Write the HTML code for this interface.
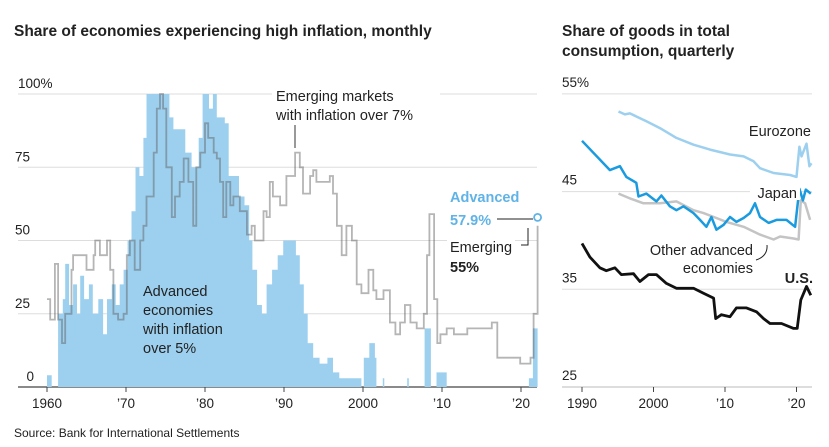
<!DOCTYPE html>
<html><head><meta charset="utf-8"><style>
body{margin:0;background:#fff;font-family:"Liberation Sans",sans-serif}
svg{display:block}
text{font-family:"Liberation Sans",sans-serif;fill:#222}
</style></head><body>
<svg id="c" width="829" height="447">
<text x="14" y="36" font-size="15.5" font-weight="bold">Share of economies experiencing high inflation, monthly</text>
<text x="562" y="36" font-size="15.5" font-weight="bold">Share of goods in total</text>
<text x="562" y="56" font-size="15.5" font-weight="bold">consumption, quarterly</text>
<text x="14" y="437" font-size="12">Source: Bank for International Settlements</text>
<g id="L"></g><g id="R"></g>
</svg>
<script>
const NS="http://www.w3.org/2000/svg";
function mk(p,t,a){const e=document.createElementNS(NS,t);for(const k in a)e.setAttribute(k,a[k]);p.appendChild(e);return e;}
// ---- Left chart data ----
const leftTicks=[0,25,50,75,100];
const leftTickLabels=["0","25","50","75","100%"];
const leftYears=[1960,1970,1980,1990,2000,2010,2020];
const leftYearLabels=["1960","\u201970","\u201980","\u201990","2000","\u201910","\u201920"];
const advYears=[1960,1960,1960.5,1960.6,1961.2,1961.4,1962,1962.3,1962.8,1963.3,1963.8,1964.2,1964.7,1965.3,1965.8,1966.5,1967.1,1967.6,1968.2,1968.7,1969.2,1969.7,1970.2,1970.7,1971.2,1971.7,1972.2,1972.6,1973,1974,1975,1975.5,1976,1977,1977.5,1978.3,1979.2,1979.7,1980.5,1981,1981.5,1982.5,1983,1983.6,1984.3,1985,1985.6,1986,1986.6,1987.2,1987.8,1988.5,1989.2,1989.9,1990.5,1991.5,1992,1992.5,1993,1993.7,1994.5,1995.5,1996.2,1997,1999.5,1999.8,2000.1,2000.8,2001.5,2001.7,2002.4,2002.5,2002.7,2005.5,2005.6,2005.8,2007.6,2007.8,2008.4,2008.6,2009.2,2009.3,2010.5,2010.6,2020.7,2021,2021.5,2022.1];
const advVals=[0,4,4,0,0,25,30,42,28,35,25,38,30,35,25,30,18,30,35,28,35,40,50,60,75,72,85,100,100,100,100,92,88,88,80,75,85,100,95,100,92,90,72,72,65,62,50,40,28,25,35,40,45,50,50,45,35,25,15,10,8,10,5,3,3,0,10,15,10,0,0,3,0,0,3,0,0,20,20,0,0,5,5,0,0,3,20,57.9];
const emgYears=[1960,1960.4,1961,1961.4,1961.9,1962.3,1963.1,1963.3,1964.2,1965,1965.9,1966.1,1966.7,1967.6,1968,1968.4,1969,1969.7,1970.1,1970.5,1971.1,1971.8,1972.2,1972.6,1973.5,1973.9,1974.3,1974.7,1975.1,1975.8,1976.2,1976.8,1977.3,1977.9,1978.5,1978.9,1979.4,1980,1980.4,1981.1,1981.5,1981.9,1982.3,1982.7,1983.2,1983.6,1984.4,1985.3,1985.9,1986.3,1986.9,1987.4,1987.8,1988.2,1988.6,1989.5,1990.3,1991.4,1992,1992.4,1993.3,1993.7,1994.1,1995.8,1996.2,1996.7,1997.3,1997.9,1998.6,1999.2,1999.8,2000.7,2001.3,2001.7,2002.6,2003.4,2004.1,2004.7,2005.3,2006,2006.8,2007.7,2008.1,2008.4,2009,2009.4,2009.8,2010.6,2011.5,2012.3,2013.2,2014.9,2016.3,2017,2019.1,2019.9,2021.2,2021.6,2022.1];
const emgVals=[30,23,42,23,15,25,40,45,45,40,45,50,45,50,40,25,23,25,45,50,40,50,55,65,80,95,100,95,75,58,65,70,78,70,55,75,80,90,85,80,78,70,58,70,62,65,60,52,55,50,50,60,58,70,65,62,72,80,75,66,72,74,70,72,66,55,45,55,50,35,32,40,33,30,33,22,18,22,28,22,20,25,45,59,30,15,18,20,18,18,20,20,22,10,10,8,10,25,55];
// ---- Right chart data ----
const rightTicks=[25,35,45,55];
const rightTickLabels=["25","35","45","55%"];
const rightYears=[1990,2000,2010,2020];
const rightYearLabels=["1990","2000","\u201910","\u201920"];
const euroYears=[1995.1,1996,1996.7,1999,2000.9,2003.2,2005.6,2007.9,2010.7,2012.6,2014,2014.9,2016.8,2019.1,2020,2020.4,2020.7,2021.4,2021.8,2022.1];
const euroVals=[53.2,52.9,53,52.2,51.5,50.5,49.8,49.3,48.8,48.6,48.1,47.4,46.9,46.7,46.5,49.6,48.6,49.9,47.6,47.9];
const japanYears=[1990,1993.9,1995.3,1996.2,1997.6,1997.9,1999,2000.4,2001.1,2002.3,2003.2,2004.2,2005.6,2006.5,2007.4,2008.1,2008.8,2009.8,2010.7,2011.6,2012.6,2013.5,2014.2,2014.9,2016.1,2017.2,2018.6,2019.8,2020.4,2020.9,2021.3,2022];
const japanVals=[50.2,47.2,47.6,46.5,45.9,44.5,44.8,44,44.6,43.5,43.1,43.5,42.8,42.1,41.4,42.4,41.1,41.6,42.4,41.9,42.3,42.8,43.8,42.4,41.8,42.1,42.1,41.4,45.3,44.1,45.2,44.8];
const otherYears=[1995.1,1996.7,1998.6,2000.9,2003.2,2005.6,2007,2008.8,2010.2,2012.6,2014.9,2016.8,2017.7,2019.6,2020.3,2020.6,2021.2,2021.9];
const otherVals=[44.8,44.3,43.8,43.8,44,43.1,42.8,42.3,41.9,41.4,40.6,40.1,40.4,40.2,40.1,44.1,43.8,42.1];
const usYears=[1990,1991.1,1992.5,1993.4,1994.6,1995.5,1997.2,1998.1,1999.3,2000.4,2001.8,2003.2,2005.6,2007,2008.4,2008.7,2009.5,2010.7,2011.6,2013,2014.4,2015.4,2016.3,2017.9,2019.6,2020.1,2020.6,2021.4,2022];
const usVals=[39.7,38.3,37.2,36.9,37.2,36.5,36.6,35.8,36.5,36.5,35.6,35.1,35.1,34.6,34.1,32,32.4,32.2,33.1,33.1,32.7,32,31.5,31.5,31,31,33.9,35.3,34.4];

const L=document.getElementById('L'),R=document.getElementById('R');
const lx=y=>47+(y-1960)*7.9, ly=v=>387-v*2.93;
const rx=y=>582+(y-1990)*7.15, ry=v=>387-(v-25)*9.77;

leftTicks.forEach((t,i)=>{
  const g=mk(L,'line',{x1:18,x2:537,y1:ly(t),y2:ly(t),stroke:t==0?'#444':'#ddd','stroke-width':t==0?1.3:1});
  
  
  const tx=mk(L,'text',{x:t==100?18:(t==0?34:30),y:ly(t)-6,'font-size':13.5,'text-anchor':t==100?'start':'end'});
  tx.textContent=leftTickLabels[i];
  
  
});
leftYears.forEach((y,i)=>{
  const tk=mk(L,'line',{x1:lx(y),x2:lx(y),y1:387,y2:392,stroke:'#444'});
  
  
  const tx=mk(L,'text',{x:lx(y),y:408,'font-size':13.5,'text-anchor':'middle'});
  tx.textContent=leftYearLabels[i];
  
  
});
let d='M'+lx(advYears[0])+','+ly(0);
advYears.forEach((y,i)=>{ if(i>0) d+='H'+lx(y).toFixed(1); d+='V'+ly(advVals[i]).toFixed(1);});
d+='V'+ly(0)+'Z';
const area=mk(L,'path',{d:d,fill:'#9dd0ef'});


let d2='M'+lx(emgYears[0]).toFixed(1)+','+ly(emgVals[0]).toFixed(1);
emgYears.forEach((y,i)=>{ if(i>0){d2+='H'+lx(y).toFixed(1)+'V'+ly(emgVals[i]).toFixed(1);} });
const eline=mk(L,'path',{d:d2,fill:'none',stroke:'rgba(90,90,90,0.45)','stroke-width':1.8});


const bg=mk(L,'rect',{x:272,y:86,width:168,height:40,fill:'#fff'});


[["Emerging markets",101],["with inflation over 7%",120]].forEach(a=>{const t=mk(L,'text',{x:276,y:a[1],'font-size':14.5});t.textContent=a[0];

});
const el1=mk(L,'line',{x1:295,x2:295,y1:125,y2:148,stroke:'#555','stroke-width':1.2});


[["Advanced",296],["economies",315],["with inflation",334],["over 5%",353]].forEach(a=>{const t=mk(L,'text',{x:143,y:a[1],'font-size':14.5});t.textContent=a[0];

});
const wb=mk(L,'rect',{x:447,y:185,width:68,height:88,fill:'#fff'});


const a1=mk(L,'text',{x:450,y:202,'font-size':14.5,'font-weight':'bold',style:'fill:#5fb3e6'});a1.textContent='Advanced';


const a2=mk(L,'text',{x:450,y:225,'font-size':14.5,'font-weight':'bold',style:'fill:#5fb3e6'});a2.textContent='57.9%';


const a3=mk(L,'text',{x:450,y:252,'font-size':14.5});a3.textContent='Emerging';


const a4=mk(L,'text',{x:450,y:272,'font-size':14.5,'font-weight':'bold'});a4.textContent='55%';


const l1=mk(L,'line',{x1:497,x2:533,y1:219,y2:219,stroke:'#222'});


const l2=mk(L,'path',{d:'M521,245H528V228',fill:'none',stroke:'#222'});


const dot=mk(L,'circle',{cx:lx(2022.1),cy:ly(57.9),r:3.5,fill:'#fff',stroke:'#5fb3e6','stroke-width':1.8});



rightTicks.forEach((t,i)=>{
  const g=mk(R,'line',{x1:562,x2:812,y1:ry(t),y2:ry(t),stroke:t==25?'#bbb':'#ddd'});
  
  
  const tx=mk(R,'text',{x:562,y:ry(t)-7,'font-size':13.5});
  tx.textContent=rightTickLabels[i];
  
  
});
rightYears.forEach((y,i)=>{
  const tk=mk(R,'line',{x1:rx(y),x2:rx(y),y1:387,y2:392,stroke:'#444'});
  
  
  const tx=mk(R,'text',{x:rx(y),y:408,'font-size':13.5,'text-anchor':'middle'});
  tx.textContent=rightYearLabels[i];
  
  
});
function line(xs,vs,col,w){return mk(R,'polyline',{points:xs.map((y,i)=>rx(y).toFixed(1)+','+ry(vs[i]).toFixed(1)).join(' '),fill:'none',stroke:col,'stroke-width':w,'stroke-linejoin':'round'});}
const lo=line(otherYears,otherVals,'#c4c4c4',2.5);


const le=line(euroYears,euroVals,'#9dd0ef',2.5);


const lj=line(japanYears,japanVals,'#1a9be0',2.5);


const lu=line(usYears,usVals,'#111',2.8);


const r1=mk(R,'text',{x:811,y:136,'font-size':14.5,'text-anchor':'end'});r1.textContent='Eurozone';


const jb=mk(R,'rect',{x:750,y:183,width:50,height:17,fill:'#fff'});


const r2=mk(R,'text',{x:797,y:198,'font-size':14.5,'text-anchor':'end'});r2.textContent='Japan';


const r3=mk(R,'text',{x:753,y:255,'font-size':14.5,'text-anchor':'end'});r3.textContent='Other advanced';


const r4=mk(R,'text',{x:753,y:273,'font-size':14.5,'text-anchor':'end'});r4.textContent='economies';


const cl=mk(R,'path',{d:'M756,260Q768,256 767,245',fill:'none',stroke:'#222'});


const r5=mk(R,'text',{x:813,y:283,'font-size':14.5,'font-weight':'bold','text-anchor':'end'});r5.textContent='U.S.';


</script>
</body></html>
